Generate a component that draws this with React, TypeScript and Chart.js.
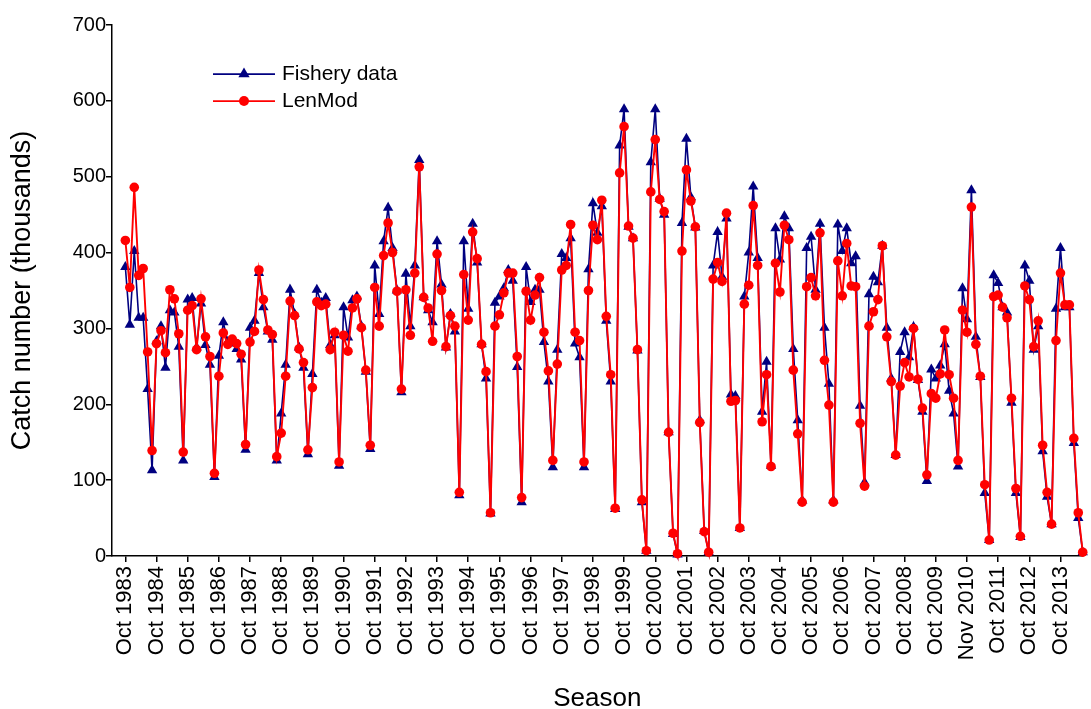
import React, { useEffect, useRef } from "react";
import { Chart, registerables } from "chart.js";

Chart.register(...registerables);

const seasonLabels: string[] = [
  "Oct 1983", "Oct 1984", "Oct 1985", "Oct 1986", "Oct 1987", "Oct 1988", "Oct 1989", "Oct 1990",
  "Oct 1991", "Oct 1992", "Oct 1993", "Oct 1994", "Oct 1995", "Oct 1996", "Oct 1997", "Oct 1998",
  "Oct 1999", "Oct 2000", "Oct 2001", "Oct 2002", "Oct 2003", "Oct 2004", "Oct 2005", "Oct 2006",
  "Oct 2007", "Oct 2008", "Oct 2009", "Nov 2010", "Oct 2011", "Oct 2012", "Oct 2013",
];

const fisheryData: number[] = [
  381, 305, 402, 314, 314, 220, 113, 283, 303, 248, 324, 321, 276, 126, 338, 340, 275, 333, 278, 252,
  104, 264, 308, 282, 280, 273, 259, 140, 301, 310, 373, 328, 296, 285, 126, 188, 252, 351, 319, 275,
  248, 134, 240, 351, 334, 340, 278, 291, 119, 328, 288, 337, 342, 303, 243, 141, 383, 319, 415, 459,
  406, 350, 216, 372, 303, 383, 522, 341, 324, 308, 415, 358, 275, 319, 296, 80, 415, 326, 438, 387,
  279, 234, 56, 334, 342, 353, 377, 363, 249, 71, 381, 335, 351, 351, 282, 230, 117, 272, 398, 393,
  419, 280, 262, 117, 378, 465, 426, 461, 310, 230, 62, 541, 589, 434, 419, 271, 71, 7, 519, 589,
  471, 450, 163, 29, 2, 439, 550, 473, 433, 179, 33, 5, 383, 427, 368, 445, 213, 211, 37, 342,
  400, 487, 393, 190, 256, 119, 432, 391, 448, 432, 273, 179, 73, 406, 421, 351, 438, 301, 227, 73,
  437, 402, 432, 386, 395, 198, 97, 345, 368, 361, 409, 301, 234, 133, 269, 295, 262, 302, 232, 190,
  99, 246, 234, 251, 279, 218, 188, 118, 353, 312, 482, 289, 236, 83, 21, 370, 360, 328, 321, 202,
  83, 25, 383, 363, 272, 303, 138, 78, 42, 326, 406, 328, 328, 149, 50, 5,
];

const lenModData: number[] = [
  416, 354, 486, 370, 379, 269, 139, 280, 297, 268, 351, 339, 293, 137, 324, 330, 272, 339, 289, 263,
  109, 237, 294, 279, 286, 280, 266, 147, 282, 296, 377, 338, 298, 292, 131, 162, 237, 336, 317, 273,
  255, 140, 222, 335, 330, 332, 272, 295, 124, 291, 270, 327, 339, 301, 245, 146, 354, 303, 396, 439,
  400, 349, 220, 351, 291, 373, 513, 341, 327, 283, 398, 350, 276, 317, 303, 84, 371, 311, 427, 392,
  279, 243, 57, 303, 318, 347, 373, 373, 263, 77, 349, 311, 344, 367, 295, 244, 126, 253, 377, 383,
  437, 295, 284, 124, 350, 436, 417, 469, 316, 239, 63, 505, 566, 435, 419, 272, 74, 7, 480, 549,
  470, 454, 163, 30, 3, 402, 509, 468, 434, 176, 32, 5, 365, 387, 362, 452, 204, 205, 37, 332,
  357, 462, 383, 177, 239, 118, 386, 348, 436, 417, 245, 161, 71, 355, 367, 343, 426, 258, 199, 71,
  389, 343, 412, 356, 355, 175, 92, 303, 322, 338, 409, 289, 230, 133, 224, 255, 236, 300, 233, 195,
  107, 214, 208, 240, 298, 239, 208, 126, 324, 295, 460, 279, 237, 94, 21, 342, 344, 328, 314, 208,
  89, 26, 356, 338, 276, 310, 146, 84, 42, 284, 373, 331, 331, 155, 57, 5,
];

const yTicks: number[] = [0, 100, 200, 300, 400, 500, 600, 700];
const monthsPerLabel = 7;

const FONT = '"Liberation Sans", Arial, Helvetica, sans-serif';
const BLUE = "#000080";
const RED = "#FF0000";

const legendItems = [
  { label: "Fishery data", color: BLUE, style: "triangle" },
  { label: "LenMod", color: RED, style: "circle" },
];

function drawMarker(ctx: CanvasRenderingContext2D, style: string, x: number, y: number, r: number, color: string) {
  ctx.fillStyle = color;
  ctx.beginPath();
  if (style === "triangle") {
    ctx.moveTo(x, y - r);
    ctx.lineTo(x + r * 0.866, y + r * 0.5);
    ctx.lineTo(x - r * 0.866, y + r * 0.5);
    ctx.closePath();
  } else {
    ctx.arc(x, y, r, 0, Math.PI * 2);
  }
  ctx.fill();
}

const legendPlugin = {
  id: "insideLegend",
  afterDraw(chart: any) {
    const ctx: CanvasRenderingContext2D = chart.ctx;
    const area = chart.chartArea;
    const x0 = area.left + 101;
    const y0 = area.top + 49;
    ctx.save();
    legendItems.forEach((it, k) => {
      const y = y0 + k * 27;
      ctx.strokeStyle = it.color;
      ctx.lineWidth = 1.75;
      ctx.beginPath();
      ctx.moveTo(x0, y);
      ctx.lineTo(x0 + 62, y);
      ctx.stroke();
      drawMarker(ctx, it.style, x0 + 31, y, it.style === "triangle" ? 6.5 : 5, it.color);
      ctx.fillStyle = "#000";
      ctx.font = `21px ${FONT}`;
      ctx.textBaseline = "middle";
      ctx.textAlign = "left";
      ctx.fillText(it.label, x0 + 69, y);
    });
    ctx.restore();
  },
};

export default function App() {
  const canvasRef = useRef<HTMLCanvasElement | null>(null);

  useEffect(() => {
    const canvas = canvasRef.current;
    if (!canvas) return;
    const chart = new Chart(canvas, {
      type: "line",
      data: {
        labels: fisheryData.map((_, i) => i),
        datasets: [
          {
            label: "Fishery data",
            data: fisheryData,
            borderColor: BLUE,
            backgroundColor: BLUE,
            borderWidth: 1.6,
            pointStyle: "triangle",
            pointRadius: 6,
            pointBorderWidth: 0,
            pointBackgroundColor: BLUE,
            tension: 0,
            clip: false,
            order: 2,
          },
          {
            label: "LenMod",
            data: lenModData,
            borderColor: RED,
            backgroundColor: RED,
            borderWidth: 1.9,
            pointStyle: "circle",
            pointRadius: 4.8,
            pointBorderWidth: 0,
            pointBackgroundColor: RED,
            tension: 0,
            clip: false,
            order: 1,
          },
        ],
      },
      options: {
        animation: false,
        responsive: false,
        maintainAspectRatio: false,
        layout: { padding: { top: 25, right: 3, left: 0, bottom: 0 } },
        plugins: {
          legend: { display: false },
          tooltip: { enabled: false },
        },
        scales: {
          x: {
            type: "linear",
            min: -3,
            max: fisheryData.length - 1,
            afterBuildTicks: (s: any) => {
              s.ticks = seasonLabels.map((_, k) => ({ value: k * monthsPerLabel }));
            },
            afterFit: (s: any) => {
              s.height = 153;
            },
            ticks: {
              autoSkip: false,
              minRotation: 90,
              maxRotation: 90,
              padding: 4,
              color: "#000",
              font: { family: FONT, size: 22 },
              callback: (v: any) => seasonLabels[Math.round(Number(v) / monthsPerLabel)] ?? "",
            },
            grid: { drawOnChartArea: false, drawTicks: true, tickLength: 6, color: "#000", lineWidth: 1.5 },
            border: { display: true, color: "#000", width: 1.5 },
            title: {
              display: true,
              text: "Season",
              color: "#000",
              font: { family: FONT, size: 26 },
              padding: { top: 0, bottom: -5 },
            },
          },
          y: {
            type: "linear",
            min: 0,
            max: 700,
            afterBuildTicks: (s: any) => {
              s.ticks = yTicks.map((v) => ({ value: v }));
            },
            afterFit: (s: any) => {
              s.width = 112;
            },
            ticks: {
              padding: 0,
              color: "#000",
              font: { family: FONT, size: 20 },
            },
            grid: { drawOnChartArea: false, drawTicks: true, tickLength: 6, color: "#000", lineWidth: 1.5 },
            border: { display: true, color: "#000", width: 1.5 },
            title: {
              display: true,
              text: "Catch number (thousands)",
              color: "#000",
              font: { family: FONT, size: 27 },
              padding: { top: 6, bottom: 0 },
            },
          },
        },
      },
      plugins: [legendPlugin],
    });
    return () => chart.destroy();
  }, []);

  return (
    <div style={{ position: "fixed", left: 0, top: 0, width: 1091, height: 709, background: "#fff" }}>
      <canvas ref={canvasRef} width={1091} height={709} style={{ display: "block" }} />
    </div>
  );
}
